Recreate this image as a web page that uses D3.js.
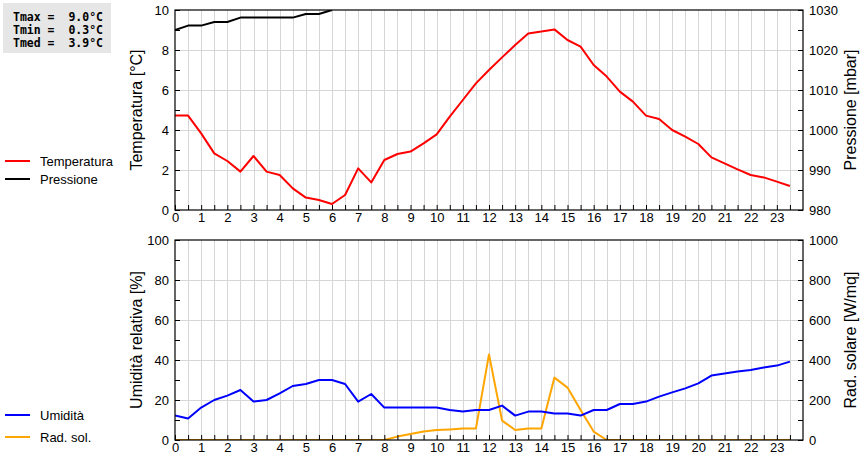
<!DOCTYPE html>
<html>
<head>
<meta charset="utf-8">
<script src="https://cdn.jsdelivr.net/npm/d3@7"></script>
<style>
body { margin: 0; background: #fff; }
svg { font-family: "Liberation Sans", Arial, sans-serif; }
</style>
</head>
<body>
<div id="chart"></div>
<script>
//Time axis (hours)
const hours = [0, 0.5, 1, 1.5, 2, 2.5, 3, 3.5, 4, 4.5, 5, 5.5, 6, 6.5, 7, 7.5,
               8, 8.5, 9, 9.5, 10, 10.5, 11, 11.5, 12, 12.5, 13, 13.5, 14, 14.5, 15, 15.5,
               16, 16.5, 17, 17.5, 18, 18.5, 19, 19.5, 20, 20.5, 21, 21.5, 22, 22.5, 23, 23.5];
const hourLabels = [0, 1, 2, 3, 4, 5, 6, 7, 8, 9, 10, 11, 12, 13, 14, 15, 16, 17, 18, 19, 20, 21, 22, 23];

//Series values
const temperatura = [4.72, 4.72, 3.83, 2.83, 2.45, 1.92, 2.7, 1.92, 1.75, 1.08, 0.62, 0.5,
                     0.3, 0.75, 2.08, 1.38, 2.5, 2.8, 2.92, 3.33, 3.78, 4.67, 5.5, 6.33,
                     7.0, 7.63, 8.25, 8.83, 8.92, 9.03, 8.5, 8.17, 7.25, 6.67, 5.92, 5.42,
                     4.72, 4.55, 4.0, 3.67, 3.3, 2.63, 2.33, 2.03, 1.75, 1.63, 1.42, 1.2];
const pressione = [1025.0, 1026.1, 1026.1, 1027.0, 1027.0, 1028.1, 1028.1, 1028.1, 1028.1, 1028.1,
                   1029.0, 1029.0, 1030.0];
const umidita = [12.2, 10.8, 16.2, 20, 22.2, 25, 19.2, 20, 23.3, 27, 28, 30,
                 30, 28, 19.2, 23, 16.2, 16.2, 16.2, 16.2, 16.2, 15, 14.2, 15,
                 15, 17.2, 12.2, 14.2, 14.2, 13.3, 13.3, 12.2, 15, 15, 18, 18,
                 19.2, 21.7, 23.8, 25.8, 28.3, 32.2, 33.3, 34.2, 35, 36.2, 37.2, 39.2];
const radSol = [0, 0, 0, 0, 0, 0, 0, 0, 0, 0, 0, 0,
                0, 0, 0, 0, 0, 17, 30, 42, 50, 53, 57, 57,
                428, 97, 50, 57, 57, 312, 262, 150, 42, 0, 0, 0,
                0, 0, 0, 0, 0, 0, 0, 0, 0, 0, 0, 0];

//Tick values
const tempTicks = [0, 1, 2, 3, 4, 5, 6, 7, 8, 9, 10];
const pressTicks = [980, 985, 990, 995, 1000, 1005, 1010, 1015, 1020, 1025, 1030];
const umidTicks = [0, 10, 20, 30, 40, 50, 60, 70, 80, 90, 100];
const radTicks = [0, 100, 200, 300, 400, 500, 600, 700, 800, 900, 1000];

//Summary
const stats = ["Tmax =  9.0°C", "Tmin =  0.3°C", "Tmed =  3.9°C"];

//////////////////////////////////////////////////

const W = 860, H = 460;
const PL = 175, PR = 803;
const svg = d3.select("#chart").append("svg").attr("width", W).attr("height", H);

const x = d3.scaleLinear().domain([0, 24]).range([PL, PR]);
//Snap to pixel centre for crisp 1px lines
const px = v => Math.round(v) + 0.5;

function drawPanel(top, bottom, yL, yR, ticksL, majorL, ticksR, majorR, titleL, titleR, series, clipId) {
	const g = svg.append("g");

	//Grid
	g.append("g").selectAll("line").data(hours.filter(h => h > 0)).join("line")
		.attr("x1", d => px(x(d))).attr("x2", d => px(x(d)))
		.attr("y1", top).attr("y2", bottom)
		.attr("stroke", "#d6d6d6").attr("stroke-width", 1);
	g.append("g").selectAll("line").data(ticksL.filter(t => t % majorL == 0 && t != yL.domain()[0] && t != yL.domain()[1])).join("line")
		.attr("x1", PL).attr("x2", PR)
		.attr("y1", d => px(yL(d))).attr("y2", d => px(yL(d)))
		.attr("stroke", "#d6d6d6").attr("stroke-width", 1);

	//Lines
	svg.append("clipPath").attr("id", clipId).append("rect")
		.attr("x", PL).attr("y", top).attr("width", PR - PL).attr("height", bottom - top);
	const lg = g.append("g").attr("clip-path", "url(#" + clipId + ")");
	series.forEach(s => {
		const line = d3.line().x((d, i) => x(hours[i])).y(d => s.scale(d));
		lg.append("path").attr("d", line(s.values))
			.attr("fill", "none").attr("stroke", s.color).attr("stroke-width", 2)
			.attr("stroke-linejoin", "round");
	});

	//Axes
	const ax = g.append("g").attr("transform", "translate(0," + bottom + ")")
		.call(d3.axisBottom(x).tickValues(hours).tickSizeInner(-5).tickSizeOuter(0).tickPadding(3)
			.tickFormat(d => hourLabels.includes(d) ? d : ""));
	const al = g.append("g").attr("transform", "translate(" + PL + ",0)")
		.call(d3.axisLeft(yL).tickValues(ticksL).tickSizeInner(-5).tickSizeOuter(0).tickPadding(6)
			.tickFormat(d => d % majorL == 0 ? d : ""));
	const ar = g.append("g").attr("transform", "translate(" + PR + ",0)")
		.call(d3.axisRight(yR).tickValues(ticksR).tickSizeInner(-5).tickSizeOuter(0).tickPadding(6)
			.tickFormat(d => d % majorR == 0 ? d : ""));
	[ax, al, ar].forEach(a => {
		a.selectAll("text").attr("font-size", 13).attr("fill", "#000")
			.attr("font-family", "'Liberation Sans', Arial, sans-serif");
		a.selectAll("line").attr("stroke", "#000");
		a.select(".domain").remove();
	});

	//Frame
	g.append("rect").attr("x", PL).attr("y", top).attr("width", PR - PL).attr("height", bottom - top)
		.attr("fill", "none").attr("stroke", "#000").attr("stroke-width", 1.2);

	//Titles
	const cy = (top + bottom) / 2;
	g.append("text").attr("transform", "translate(142," + cy + ") rotate(-90)")
		.attr("text-anchor", "middle").attr("font-size", 16).text(titleL);
	g.append("text").attr("transform", "translate(856," + cy + ") rotate(-90)")
		.attr("text-anchor", "middle").attr("font-size", 16).text(titleR);
}

const yTemp = d3.scaleLinear().domain([0, 10]).range([210, 10]);
const yPress = d3.scaleLinear().domain([980, 1030]).range([210, 10]);
const yUmid = d3.scaleLinear().domain([0, 100]).range([440, 240]);
const yRad = d3.scaleLinear().domain([0, 1000]).range([440, 240]);

drawPanel(10, 210, yTemp, yPress, tempTicks, 2, pressTicks, 10,
	"Temperatura [°C]", "Pressione [mbar]",
	[{values: pressione, scale: yPress, color: "#000000"},
	 {values: temperatura, scale: yTemp, color: "#ff0000"}], "clipTop");

drawPanel(240, 440, yUmid, yRad, umidTicks, 20, radTicks, 200,
	"Umidità relativa [%]", "Rad. solare [W/mq]",
	[{values: radSol, scale: yRad, color: "#ffa500"},
	 {values: umidita, scale: yUmid, color: "#0000ff"}], "clipBottom");

//Legends
const legends = [
	{label: "Temperatura", color: "#ff0000", y: 161},
	{label: "Pressione", color: "#000000", y: 179},
	{label: "Umidità", color: "#0000ff", y: 415},
	{label: "Rad. sol.", color: "#ffa500", y: 437}
];
const lg = svg.append("g").selectAll("g").data(legends).join("g");
lg.append("line").attr("x1", 5).attr("x2", 30).attr("y1", d => d.y).attr("y2", d => d.y)
	.attr("stroke", d => d.color).attr("stroke-width", 2);
lg.append("text").attr("x", 40).attr("y", d => d.y + 5).attr("font-size", 13).text(d => d.label);

//Stats box
svg.append("rect").attr("x", 3).attr("y", 3).attr("width", 108).attr("height", 50).attr("fill", "#e6e6e6");
svg.append("g").selectAll("text").data(stats).join("text")
	.attr("x", 13).attr("y", (d, i) => 21 + i * 13)
	.attr("font-family", "'DejaVu Sans Mono', monospace").attr("font-weight", "bold")
	.attr("font-size", 11.5).attr("xml:space", "preserve").style("white-space", "pre")
	.text(d => d);
</script>
</body>
</html>
